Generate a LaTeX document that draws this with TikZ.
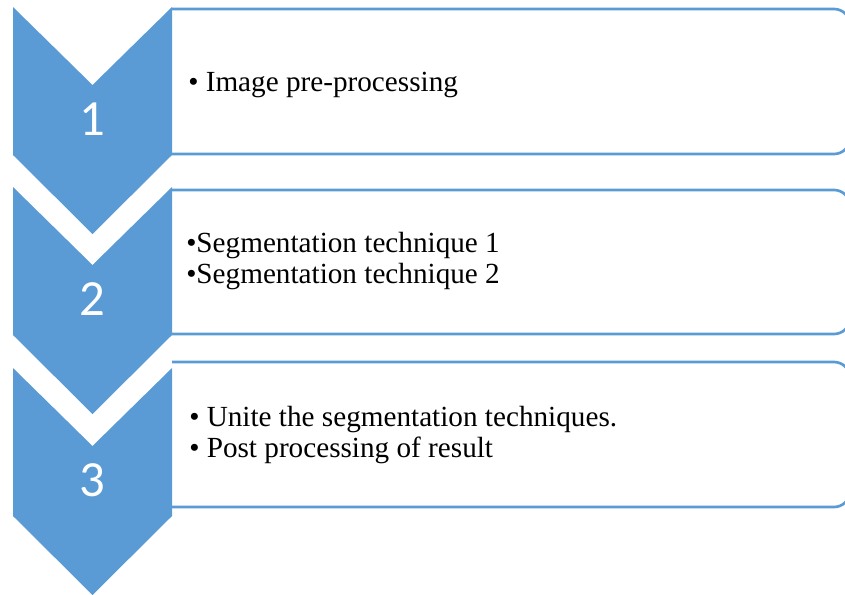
\documentclass[tikz,border=0pt]{standalone}
\usepackage{fontspec}
\setmainfont{Liberation Serif}
\newfontfamily\numfont{Carlito}
\usepackage{tikz}
\usetikzlibrary{positioning}
\usepackage{xcolor}
\definecolor{listblue}{HTML}{5B9BD5}

\begin{document}
\begin{tikzpicture}[x=0.75pt,y=-0.75pt,
        chev/.style={fill=listblue},
        listbox/.style={draw=listblue, line width=2pt, rounded corners=12pt},
        numlabel/.style={text=white, inner sep=0pt, font=\numfont\fontsize{38}{38}\selectfont},
        itemtext/.style={anchor=base west, inner sep=0pt, align=left, font=\fontsize{21.9}{23}\selectfont}]
        \useasboundingbox (0,0) rectangle (845,594);
        \clip (0,0) rectangle (845,594);
        \foreach \t/\b in {9/154, 190/334, 362/507}
        {
            \draw[listbox] (172,\t) -- (850,\t) -- (850,\b) -- (172,\b);
        }
        \foreach \i/\t in {1/7, 2/187, 3/368}
        {
            \fill[chev] (13,\t) -- (92.5,\t+78) -- (172,\t) -- (172,\t+148) -- (92.5,\t+227) -- (13,\t+148) -- cycle;
            \node[numlabel] (n\i) at (92.5,\t+112) {\i};
        }
        \node[itemtext] (t1) at (188,91) {• Image pre-processing};
        \node[itemtext] (t2) at (186,283) {•Segmentation technique 1\\•Segmentation technique 2};
        \node[itemtext] (t3) at (189,457) {• Unite the segmentation techniques.\\• Post processing of result};
    \end{tikzpicture}
\end{document}
